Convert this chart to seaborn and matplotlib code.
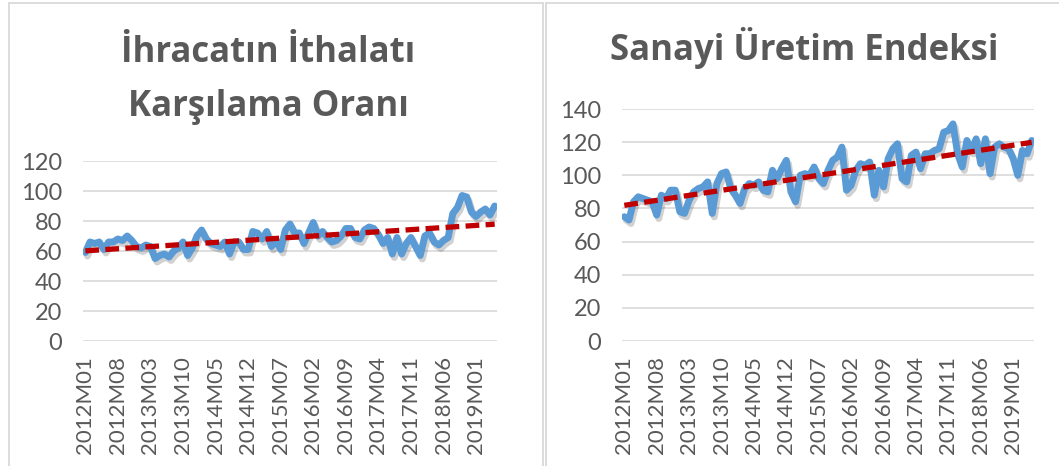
import numpy as np
import pandas as pd
import matplotlib
matplotlib.use("Agg")
import matplotlib.pyplot as plt
import matplotlib.patheffects as pe
from matplotlib.patches import Rectangle
import seaborn as sns

# ---- data ----
years = list(range(2012, 2020))
periods = [f"{y}M{m:02d}" for y in years for m in range(1, 13)][:89]

coverage = [59, 66, 65, 66, 61, 66, 66, 68, 67, 70, 67, 63,
            62, 64, 63, 55, 57, 58, 56, 60, 62, 66, 57, 62,
            70, 74, 68, 65, 64, 63, 66, 58, 66, 66, 61, 61,
            73, 72, 68, 73, 63, 67, 61, 74, 78, 72, 72, 65,
            72, 79, 70, 73, 69, 66, 67, 70, 75, 75, 69, 68,
            74, 76, 75, 71, 65, 69, 58, 69, 58, 65, 69, 63,
            57, 70, 72, 66, 64, 67, 69, 85, 89, 97, 96, 86,
            83, 86, 88, 84, 90]

industry = [75, 73, 84, 87, 86, 85, 84, 76, 88, 86, 91, 91,
            78, 77, 85, 90, 92, 93, 96, 77, 95, 101, 102, 92,
            88, 83, 92, 95, 94, 96, 91, 90, 103, 98, 104, 109,
            90, 84, 100, 101, 100, 105, 98, 95, 103, 109, 111, 117,
            91, 94, 103, 107, 106, 108, 88, 103, 93, 110, 116, 119,
            98, 96, 112, 114, 104, 113, 113, 115, 116, 126, 127, 131,
            113, 105, 121, 115, 122, 107, 122, 101, 117, 119, 117, 116,
            110, 100, 115, 113, 121]

titles = ["İhracatın İthalatı\nKarşılama Oranı", "Sanayi Üretim Endeksi"]
yticks_left = [0, 20, 40, 60, 80, 100, 120]
yticks_right = [0, 20, 40, 60, 80, 100, 120, 140]

# ---- style ----
sns.set_theme(style="white")
plt.rcParams['font.family'] = ['Lato', 'DejaVu Sans']

W, H = 1059, 466
fig = plt.figure(figsize=(W / 100, H / 100), dpi=100)

TXT = "#595959"
GRID = "#D9D9D9"
BLUE = "#5B9BD5"
RED = "#C00000"

# chart frames
fig.patches.append(Rectangle((9 / W, -0.05), (543 - 9) / W, 1.05 - 3 / H,
                             transform=fig.transFigure, fill=False,
                             edgecolor=GRID, lw=1.3))
fig.patches.append(Rectangle((546 / W, -0.05), 0.6, 1.05 - 3 / H,
                             transform=fig.transFigure, fill=False,
                             edgecolor=GRID, lw=1.3))

def make_panel(rect, values, yticks):
    ax = fig.add_axes(rect)
    df = pd.DataFrame({"i": np.arange(len(values)), "v": values})
    sns.lineplot(data=df, x="i", y="v", ax=ax, color=BLUE, lw=5.0,
                 path_effects=[pe.SimpleLineShadow(offset=(1.5, -2.5), alpha=0.2, shadow_color="k"),
                               pe.Normal()])
    sns.regplot(data=df, x="i", y="v", ax=ax, scatter=False, ci=None,
                line_kws=dict(color=RED, lw=3.8, ls=(0, (2.6, 1.2)), dash_capstyle="butt"))
    ax.set_xlim(-0.5, len(values) - 0.5)
    ax.set_ylim(yticks[0], yticks[-1])
    ax.set_yticks(yticks)
    ax.set_xticks(np.arange(0, len(values), 7))
    ax.set_xticklabels([periods[k] for k in range(0, len(values), 7)], rotation=90)
    for t in ax.get_yticklabels():
        t.set_fontsize(17)
        t.set_color(TXT)
    for t in ax.get_xticklabels():
        t.set_fontsize(16)
        t.set_color(TXT)
    ax.tick_params(axis="y", length=0, pad=15)
    ax.tick_params(axis="x", length=0, pad=11)
    ax.grid(axis="y", color=GRID, lw=1.2)
    ax.set_axisbelow(True)
    for s in ax.spines.values():
        s.set_visible(False)
    ax.set_xlabel("")
    ax.set_ylabel("")
    ax.set_facecolor("none")
    return ax

axL = make_panel([83 / W, 1 - 341 / H, 414 / W, (341 - 161) / H], coverage, yticks_left)
axR = make_panel([622 / W, 1 - 341 / H, 412 / W, (341 - 109) / H], industry, yticks_right)

TFONT = ['Open Sans', 'DejaVu Sans']
l1, l2 = titles[0].split("\n")
fig.text(268 / W, 1 - 62 / H, l1, ha="center", va="baseline", fontsize=25,
         fontweight="bold", color=TXT, family=TFONT)
fig.text(268 / W, 1 - 116 / H, l2, ha="center", va="baseline", fontsize=25,
         fontweight="bold", color=TXT, family=TFONT)
fig.text(804 / W, 1 - 60 / H, titles[1], ha="center", va="baseline", fontsize=25,
         fontweight="bold", color=TXT, family=TFONT)

fig.savefig("out.png", dpi=100, facecolor="white")
